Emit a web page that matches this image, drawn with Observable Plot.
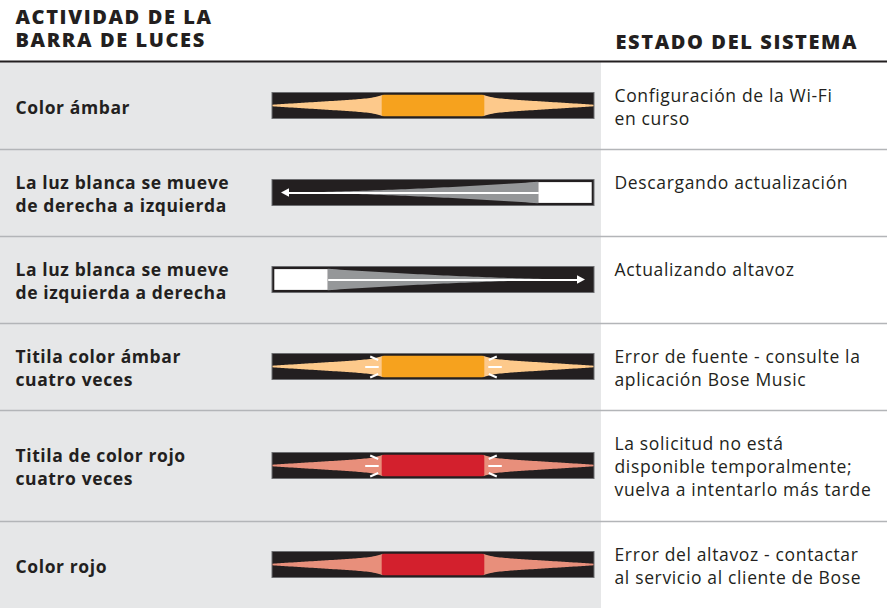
<!DOCTYPE html>
<html><head><meta charset="utf-8">
<script src="https://cdn.jsdelivr.net/npm/d3@7"></script>
<script src="https://cdn.jsdelivr.net/npm/@observablehq/plot@0.6"></script>
<style>body{margin:0;background:#fff}#chart svg{display:block}</style>
</head><body><div id="chart"></div>
<script>
// ---- data ----
const headerLeft = ["ACTIVIDAD DE LA", "BARRA DE LUCES"];
const headerRight = ["ESTADO DEL SISTEMA"];
const activities = [
  ["Color ámbar"],
  ["La luz blanca se mueve", "de derecha a izquierda"],
  ["La luz blanca se mueve", "de izquierda a derecha"],
  ["Titila color ámbar", "cuatro veces"],
  ["Titila de color rojo", "cuatro veces"],
  ["Color rojo"]
];
const states = [
  ["Configuración de la Wi-Fi", "en curso"],
  ["Descargando actualización"],
  ["Actualizando altavoz"],
  ["Error de fuente - consulte la", "aplicación Bose Music"],
  ["La solicitud no está", "disponible temporalmente;", "vuelva a intentarlo más tarde"],
  ["Error del altavoz - contactar", "al servicio al cliente de Bose"]
];
const patterns = ["solid", "sweepLeft", "sweepRight", "blink", "blink", "solid"];
const lightColors = ["amber", "white", "white", "amber", "red", "red"];

// ---- style / layout ----
const palette = {
  amber: {core: "#f6a21e", glow: "#fdc98b"},
  red: {core: "#d3202d", glow: "#e88f7b"},
  white: {core: "#ffffff", glow: "#959799"}
};
const ink = "#231f20";
const L = {
  W: 887, H: 608, headerBottom: 62, grayRight: 601,
  leftX: 15, rightX: 614,
  barX1: 272, barX2: 594, barHalf: 13, inset: 2.3,
  coreX1: 381.7, coreX2: 484.3,
  rowBase: 87, rowExtra: 24,
  leftLine: 23.5, rightLine: 23, rightFirst: 34,
  font: "'Open Sans', Lato, sans-serif"
};

// rows geometry
let cursorY = L.headerBottom;
const rows = activities.map((a, i) => {
  const h = L.rowBase + L.rowExtra * Math.max(0, states[i].length - 2);
  const r = {i, top: cursorY, bottom: cursorY + h, c: cursorY + h / 2, pattern: patterns[i], col: palette[lightColors[i]]};
  cursorY += h;
  return r;
});

// glow / taper shapes
const glowPts = [];
const N = 60;
rows.forEach(r => {
  const hmax = L.barHalf - L.inset;
  if (r.pattern === "solid" || r.pattern === "blink") {
    for (const side of [-1, 1]) {
      const xEnd = side < 0 ? L.barX1 + 0.5 : L.barX2 - 0.5;
      const xCore = side < 0 ? L.coreX1 + 1 : L.coreX2 - 1;
      for (let k = 0; k <= N; k++) {
        const t = k / N;
        const hh = hmax * (0.08 + 0.64 * t + 0.28 * Math.pow(t, 12));
        glowPts.push({id: r.i + "_" + side, x: xEnd + (xCore - xEnd) * t, y1: r.c - hh, y2: r.c + hh, fill: r.col.glow});
      }
    }
  } else {
    const left = r.pattern === "sweepLeft";
    const whiteW = 53.4;
    const xRect = left ? L.barX2 - L.inset - whiteW : L.barX1 + L.inset + whiteW;
    const xTip = left ? L.barX1 + 9 : L.barX2 - 9;
    for (let k = 0; k <= N; k++) {
      const t = k / N;
      const hh = hmax * Math.pow(t, 1.6);
      glowPts.push({id: r.i + "_t", x: xTip + (xRect - xTip) * t, y1: r.c - hh, y2: r.c + hh, fill: r.col.glow});
    }
    r.xRect = xRect; r.xTip = xTip; r.left = left; r.whiteW = whiteW;
  }
});

const bars = rows.map(r => ({x1: L.barX1, x2: L.barX2, y1: r.c - L.barHalf, y2: r.c + L.barHalf}));
const cores = rows.filter(r => r.pattern === "solid" || r.pattern === "blink").map(r => ({
  x1: L.coreX1, x2: L.coreX2, y1: r.c - L.barHalf + L.inset, y2: r.c + L.barHalf - L.inset, fill: r.col.core
}));
const sweeps = rows.filter(r => r.pattern.startsWith("sweep"));
const whiteRects = sweeps.map(r => ({
  x1: r.left ? r.xRect : L.barX1 + L.inset, x2: r.left ? L.barX2 - L.inset : r.xRect,
  y1: r.c - L.barHalf + L.inset + 0.3, y2: r.c + L.barHalf - L.inset - 0.3
}));
const sweepLines = sweeps.map(r => ({x1: r.xRect, x2: r.left ? r.xTip + 6 : r.xTip - 6, y: r.c}));
const arrowHeads = [];
sweeps.forEach(r => {
  const dir = r.left ? 1 : -1;
  arrowHeads.push({id: r.i, x: r.xTip, y1: r.c, y2: r.c});
  arrowHeads.push({id: r.i, x: r.xTip + dir * 8, y1: r.c - 4.2, y2: r.c + 4.2});
});
const ticks = [];
rows.filter(r => r.pattern === "blink").forEach(r => {
  for (const side of [-1, 1]) {
    const e = side < 0 ? L.coreX1 : L.coreX2;
    ticks.push({x1: e + side * 3.5, x2: e + side * 17, y1: r.c, y2: r.c});
    ticks.push({x1: e + side * 4, x2: e + side * 12, y1: r.c - 7, y2: r.c - 10.5});
    ticks.push({x1: e + side * 4, x2: e + side * 12, y1: r.c + 7, y2: r.c + 10.5});
  }
});

// text
const leftText = [];
rows.forEach(r => {
  const lines = activities[r.i];
  lines.forEach((t, j) => leftText.push({x: L.leftX, y: r.c + 2 + (j - (lines.length - 1) / 2) * L.leftLine, text: t}));
});
const rightText = [];
rows.forEach(r => {
  states[r.i].forEach((t, j) => rightText.push({x: L.rightX, y: r.top + L.rightFirst + j * L.rightLine, text: t}));
});
const headText = [
  ...headerLeft.map((t, j) => ({x: L.leftX, y: 17 + j * 23.3, text: t})),
  ...headerRight.map(t => ({x: L.rightX + 1, y: 42.2, text: t}))
];
const seps = rows.slice(1).map(r => ({y: r.top}));

const chart = Plot.plot({
  width: L.W, height: L.H, margin: 0,
  x: {domain: [0, L.W], range: [0, L.W], axis: null},
  y: {domain: [0, L.H], range: [0, L.H], axis: null},
  color: {type: "identity"},
  style: {fontFamily: L.font, background: "#fff"},
  marks: [
    Plot.rect([{x1: 0, x2: L.grayRight, y1: L.headerBottom, y2: L.H}], {x1: "x1", x2: "x2", y1: "y1", y2: "y2", fill: "#e6e7e8"}),
    Plot.ruleY(seps, {y: "y", x1: 0, x2: L.W, stroke: "#b3b5b8", strokeWidth: 1.6}),
    Plot.ruleY([{y: L.headerBottom - 1}], {y: "y", stroke: ink, strokeWidth: 2}),
    Plot.rect(bars, {x1: "x1", x2: "x2", y1: "y1", y2: "y2", fill: ink, stroke: "#6d6e71", strokeWidth: 1}),
    Plot.area(glowPts, {x1: "x", y1: "y1", y2: "y2", z: "id", fill: "fill"}),
    Plot.rect(cores, {x1: "x1", x2: "x2", y1: "y1", y2: "y2", fill: "fill", rx: 2}),
    Plot.rect(whiteRects, {x1: "x1", x2: "x2", y1: "y1", y2: "y2", fill: "#fff"}),
    Plot.link(sweepLines, {x1: "x1", x2: "x2", y1: "y", y2: "y", stroke: "#fff", strokeWidth: 1.8}),
    Plot.area(arrowHeads, {x1: "x", y1: "y1", y2: "y2", z: "id", fill: "#fff"}),
    Plot.link(ticks, {x1: "x1", x2: "x2", y1: "y1", y2: "y2", stroke: "#fff", strokeWidth: 2}),
    Plot.text(headText, {x: "x", y: "y", text: "text", textAnchor: "start", fontWeight: 800, fontSize: 20, fill: ink}),
    Plot.text(leftText, {x: "x", y: "y", text: "text", textAnchor: "start", fontWeight: 700, fontSize: 17.5, fill: ink}),
    Plot.text(rightText, {x: "x", y: "y", text: "text", textAnchor: "start", fontWeight: 400, fontSize: 17.5, fill: ink})
  ]
});
// letter spacing to approximate the wider typeface of the original
const spacing = [1.6, 0.6, 0.65];
chart.querySelectorAll('g[aria-label="text"]').forEach((g, k) => { g.style.letterSpacing = spacing[k] + "px"; });
document.getElementById("chart").appendChild(chart);
</script>
</body></html>
